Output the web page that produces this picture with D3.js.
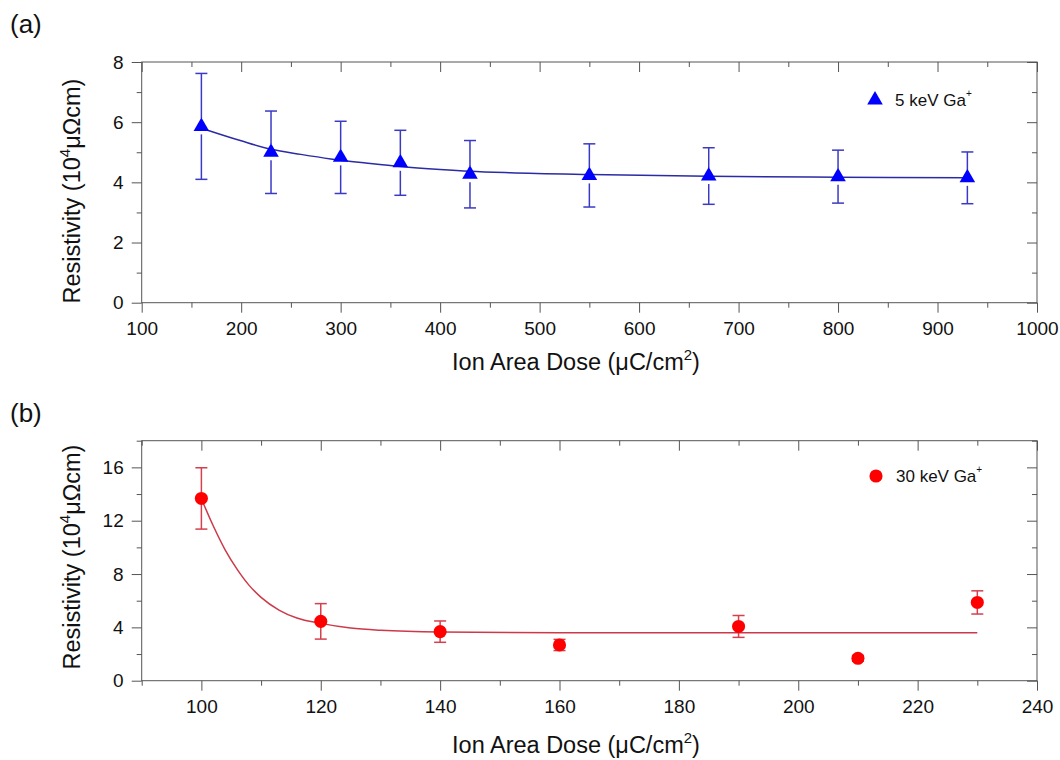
<!DOCTYPE html>
<html>
<head>
<meta charset="utf-8">
<script src="https://cdn.jsdelivr.net/npm/d3@7"></script>
<style>
  html, body { margin: 0; padding: 0; background: #fff; }
  svg { display: block; }
  text { font-family: "Liberation Sans", Arial, sans-serif; fill: #111; }
</style>
</head>
<body>
<svg id="fig" width="1060" height="760"></svg>
<script>
// Panel (a): 5 keV Ga+ irradiation
const doseA = [160, 230, 300, 360, 430, 550, 670, 800, 930];
const rhoA  = [5.86, 5.0, 4.83, 4.65, 4.27, 4.23, 4.21, 4.19, 4.15];
const errA  = [1.76, 1.37, 1.2, 1.08, 1.12, 1.05, 0.94, 0.88, 0.86];
// Exponential-decay fit for (a), sampled along the curve
const fitDoseA = [160, 200, 230, 260, 290, 330, 360, 400, 430, 470, 550, 670, 800, 930];
const fitRhoA  = [5.8, 5.38, 5.1, 4.93, 4.78, 4.63, 4.53, 4.43, 4.37, 4.32, 4.26, 4.2, 4.17, 4.15];

// Panel (b): 30 keV Ga+ irradiation
const doseB = [100, 120, 140, 160, 190, 210, 230];
const rhoB  = [13.67, 4.45, 3.68, 2.68, 4.07, 1.68, 5.87];
const errB  = [2.3, 1.33, 0.8, 0.42, 0.82, 0.22, 0.87];
// Exponential-decay fit for (b)
const fitDoseB = [100, 102, 104, 106, 108, 110, 113, 116, 120, 125, 130, 140, 160, 230];
const fitRhoB  = [13.65, 11.6, 9.8, 8.35, 7.15, 6.25, 5.3, 4.7, 4.3, 3.95, 3.78, 3.65, 3.6, 3.6];

// Axis ticks
const xMajorA = [100, 200, 300, 400, 500, 600, 700, 800, 900, 1000];
const xMinorA = [150, 250, 350, 450, 550, 650, 750, 850, 950];
const yMajorA = [0, 2, 4, 6, 8];
const yMinorA = [1, 3, 5, 7];
const xMajorB = [100, 120, 140, 160, 180, 200, 220, 240];
const xMinorB = [90, 110, 130, 150, 170, 190, 210, 230];
const yMajorB = [0, 4, 8, 12, 16];
const yMinorB = [2, 6, 10, 14, 18];

const svg = d3.select("#fig");
const axisColor = "#555";

function drawPanel(cfg) {
  const g = svg.append("g");
  const x = d3.scaleLinear().domain(cfg.xDomain).range([141.7, 1037]);
  const y = d3.scaleLinear().domain(cfg.yDomain).range([cfg.bottom, cfg.top]);

  // frame
  g.append("rect")
    .attr("x", x.range()[0]).attr("y", cfg.top)
    .attr("width", x.range()[1] - x.range()[0])
    .attr("height", cfg.bottom - cfg.top)
    .attr("fill", "none").attr("stroke", axisColor).attr("stroke-width", 1);

  const styleAxis = sel => {
    sel.select(".domain").remove();
    sel.selectAll("line").attr("stroke", axisColor).attr("stroke-width", 1);
    sel.selectAll("text").attr("font-size", 19).attr("fill", "#111")
      .style("font-family", '"Liberation Sans", Arial, sans-serif');
  };

  // bottom axis (outward ticks, labelled)
  g.append("g").attr("transform", `translate(0,${cfg.bottom})`)
    .call(d3.axisBottom(x).tickValues(cfg.xMajor).tickSize(10).tickPadding(9).tickFormat(d3.format("d")))
    .call(styleAxis);
  g.append("g").attr("transform", `translate(0,${cfg.bottom})`)
    .call(d3.axisBottom(x).tickValues(cfg.xMinor).tickSize(5).tickFormat(""))
    .call(styleAxis);
  // top axis (inward ticks)
  g.append("g").attr("transform", `translate(0,${cfg.top})`)
    .call(d3.axisBottom(x).tickValues(cfg.xMajor).tickSize(10).tickFormat(""))
    .call(styleAxis);
  g.append("g").attr("transform", `translate(0,${cfg.top})`)
    .call(d3.axisBottom(x).tickValues(cfg.xMinor).tickSize(5).tickFormat(""))
    .call(styleAxis);
  // left axis (outward ticks, labelled)
  g.append("g").attr("transform", `translate(${x.range()[0]},0)`)
    .call(d3.axisLeft(y).tickValues(cfg.yMajor).tickSize(10).tickPadding(8).tickFormat(d3.format("d")))
    .call(styleAxis);
  g.append("g").attr("transform", `translate(${x.range()[0]},0)`)
    .call(d3.axisLeft(y).tickValues(cfg.yMinor).tickSize(5).tickFormat(""))
    .call(styleAxis);
  // right axis (inward ticks)
  g.append("g").attr("transform", `translate(${x.range()[1]},0)`)
    .call(d3.axisLeft(y).tickValues(cfg.yMajor).tickSize(10).tickFormat(""))
    .call(styleAxis);
  g.append("g").attr("transform", `translate(${x.range()[1]},0)`)
    .call(d3.axisLeft(y).tickValues(cfg.yMinor).tickSize(5).tickFormat(""))
    .call(styleAxis);

  // fit curve
  const line = d3.line().x(d => x(d[0])).y(d => y(d[1])).curve(d3.curveMonotoneX);
  g.append("path")
    .datum(d3.zip(cfg.fitX, cfg.fitY))
    .attr("d", line)
    .attr("fill", "none").attr("stroke", cfg.fitColor).attr("stroke-width", 1.5);

  // error bars, split around the marker
  const pts = d3.zip(cfg.xs, cfg.ys, cfg.es);
  const eb = g.append("g").attr("stroke", cfg.errColor).attr("stroke-width", 1.5).attr("fill", "none");
  const gap = cfg.gap;
  pts.forEach(([xv, yv, ev]) => {
    const cx = x(xv), yt = y(yv + ev), yb = y(yv - ev), yc = y(yv);
    if (yc - gap > yt) eb.append("line").attr("x1", cx).attr("x2", cx).attr("y1", yt).attr("y2", yc - gap);
    if (yc + gap < yb) eb.append("line").attr("x1", cx).attr("x2", cx).attr("y1", yc + gap).attr("y2", yb);
    eb.append("line").attr("x1", cx - 6).attr("x2", cx + 6).attr("y1", yt).attr("y2", yt);
    eb.append("line").attr("x1", cx - 6).attr("x2", cx + 6).attr("y1", yb).attr("y2", yb);
  });

  // markers
  g.append("g").selectAll("path").data(pts).join("path")
    .attr("transform", d => `translate(${x(d[0])},${y(d[1])})`)
    .attr("d", cfg.symbol)
    .attr("fill", cfg.markColor);

  // legend
  g.append("path")
    .attr("transform", `translate(${cfg.legend[0]},${cfg.legend[1]})`)
    .attr("d", cfg.symbol).attr("fill", cfg.markColor);
  const lt = g.append("text")
    .attr("x", cfg.legend[0] + 20).attr("y", cfg.legend[1] + 6)
    .attr("font-size", 17);
  lt.append("tspan").text(cfg.legendText);
  lt.append("tspan").attr("font-size", 10).attr("dy", -9).text("+");

  // axis titles
  const xt = g.append("text")
    .attr("x", 576).attr("y", cfg.xTitleY)
    .attr("text-anchor", "middle").attr("font-size", 23.5);
  xt.append("tspan").text("Ion Area Dose (\u03BCC/cm");
  xt.append("tspan").attr("font-size", 15).attr("dy", -10).text("2");
  xt.append("tspan").attr("dy", 10).text(")");

  const yt = g.append("text")
    .attr("transform", `translate(80,${cfg.yTitleY}) rotate(-90)`)
    .attr("text-anchor", "middle").attr("font-size", 23.5);
  yt.append("tspan").text("Resistivity (10");
  yt.append("tspan").attr("font-size", 15).attr("dy", -10).text("4");
  yt.append("tspan").attr("dy", 10).text("\u03BC\u03A9cm)");

  // panel tag
  g.append("text").attr("x", 10).attr("y", cfg.tagY).attr("font-size", 26).text(cfg.tag);
}

drawPanel({
  xDomain: [100, 1000], yDomain: [0, 8], top: 62, bottom: 302.7,
  xMajor: xMajorA, xMinor: xMinorA, yMajor: yMajorA, yMinor: yMinorA,
  xs: doseA, ys: rhoA, es: errA, fitX: fitDoseA, fitY: fitRhoA,
  symbol: d3.symbol().type(d3.symbolTriangle).size(105)(),
  markColor: "#0000ff", errColor: "#3a3ac4", fitColor: "#2b2ba6", gap: 8,
  legend: [875, 100], legendText: "5 keV Ga",
  xTitleY: 370, yTitleY: 191, tag: "(a)", tagY: 33
});

drawPanel({
  xDomain: [90, 240], yDomain: [0, 18], top: 440.7, bottom: 680.7,
  xMajor: xMajorB, xMinor: xMinorB, yMajor: yMajorB, yMinor: yMinorB,
  xs: doseB, ys: rhoB, es: errB, fitX: fitDoseB, fitY: fitRhoB,
  symbol: d3.symbol().type(d3.symbolCircle).size(135)(),
  markColor: "#ff0000", errColor: "#d4404e", fitColor: "#cc3a4a", gap: 6,
  legend: [876, 476], legendText: "30 keV Ga",
  xTitleY: 753, yTitleY: 557, tag: "(b)", tagY: 422
});
</script>
</body>
</html>
